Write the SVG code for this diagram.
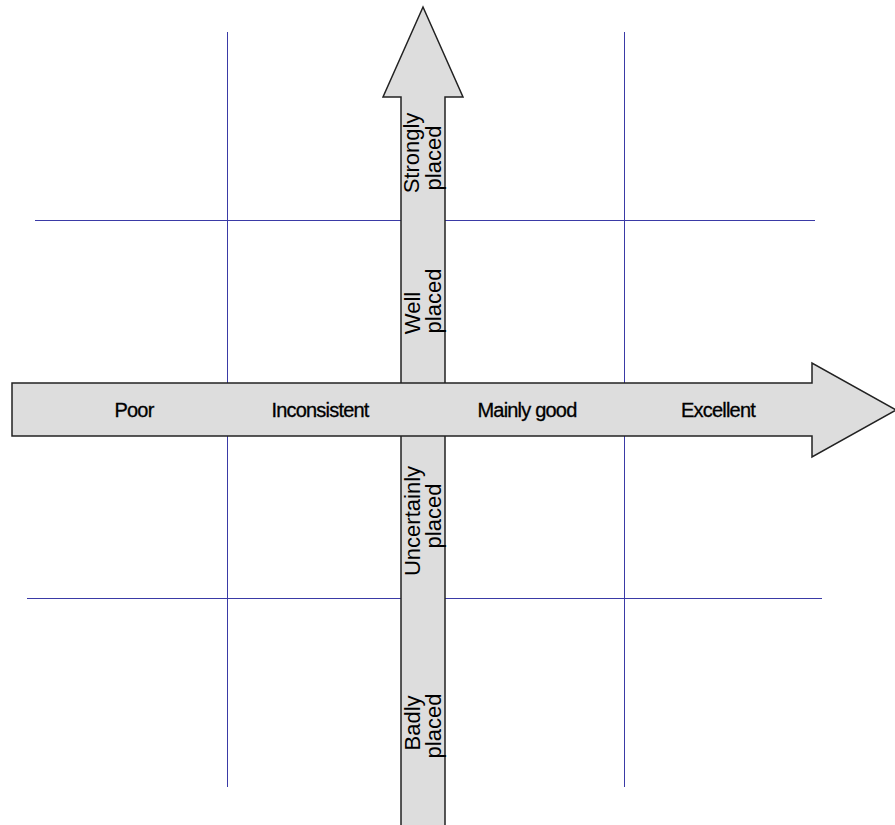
<svg xmlns="http://www.w3.org/2000/svg" width="895" height="825" viewBox="0 0 895 825">
<style>
.grid{stroke:#3a3aa6;stroke-width:1;fill:none}
.arrow{fill:#dddddd;stroke:#222222;stroke-width:1.5;stroke-linejoin:miter}
.h{font-family:"Liberation Sans",Arial,sans-serif;font-size:20px;letter-spacing:-0.8px;fill:#000;stroke:#000;stroke-width:0.3;text-anchor:middle}
.v{font-family:"Liberation Sans",Arial,sans-serif;font-size:22px;fill:#000;text-anchor:middle}
</style>
<rect width="895" height="825" fill="#ffffff"/>
<g id="grid">
<line class="grid" x1="227.5" y1="32" x2="227.5" y2="787"/>
<line class="grid" x1="624.5" y1="32" x2="624.5" y2="787"/>
<line class="grid" x1="35" y1="220.5" x2="815" y2="220.5"/>
<line class="grid" x1="27" y1="598.5" x2="822" y2="598.5"/>
</g>
<g id="connectors">
<path id="vertical-axis" class="arrow" d="M401,830 L401,97 L383,97 L423,7 L463,97 L445,97 L445,830 Z"/>
<path id="horizontal-axis" class="arrow" d="M12,383 L812,383 L812,363 L896,410 L812,457 L812,436 L12,436 Z"/>
</g>
<g id="node-poor"><text class="h" x="134" y="417">Poor</text></g>
<g id="node-inconsistent"><text class="h" x="320" y="417">Inconsistent</text></g>
<g id="node-mainly-good"><text class="h" x="527" y="417">Mainly good</text></g>
<g id="node-excellent"><text class="h" x="718" y="417">Excellent</text></g>
<g id="node-strongly"><text class="v" transform="translate(419,153) rotate(-90)"><tspan x="0" y="0">Strongly</tspan><tspan x="-5" y="22">placed</tspan></text></g>
<g id="node-well"><text class="v" transform="translate(420,313) rotate(-90)"><tspan x="0" y="0">Well</tspan><tspan x="12" y="21">placed</tspan></text></g>
<g id="node-uncertainly"><text class="v" transform="translate(420,521) rotate(-90)"><tspan x="0" y="0">Uncertainly</tspan><tspan x="5" y="21">placed</tspan></text></g>
<g id="node-badly"><text class="v" transform="translate(420,723) rotate(-90)"><tspan x="0" y="0">Badly</tspan><tspan x="-3" y="21">placed</tspan></text></g>
</svg>
